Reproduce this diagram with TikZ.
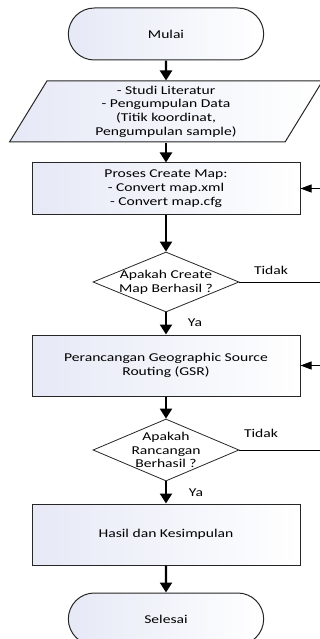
\documentclass[tikz,border=0pt]{standalone}
\usepackage{fontspec}
\setmainfont{Carlito}[FakeStretch=1.3]
\usetikzlibrary{positioning}
\usetikzlibrary{shapes.geometric}
\usetikzlibrary{shapes.misc}
\usetikzlibrary{arrows.meta}
\definecolor{boxfill}{RGB}{230,233,246}

\begin{document}
\begin{tikzpicture}[
  x=1pt, y=-1pt,
  font=\fontsize{12}{13.7}\selectfont,
  term/.style={draw=black!85, line width=1pt, rounded rectangle, minimum width=202pt, minimum height=52pt, left color=boxfill, right color=white},
  io/.style={draw=black!85, line width=1pt, trapezium, trapezium left angle=54, trapezium right angle=126, trapezium stretches body, minimum width=313pt, minimum height=61pt, left color=boxfill, right color=white, align=center, inner sep=0pt},
  proc/.style={draw=black!85, line width=1pt, rectangle, minimum width=268pt, left color=boxfill, right color=white, align=center},
  decision/.style={draw=black!85, line width=0.8pt, diamond, minimum width=146pt, minimum height=60pt, fill=white, inner sep=0pt},
  flow/.style={draw=black, line width=2.2pt, -{Triangle[width=12pt,length=10pt]}},
  back/.style={draw=black, line width=0.9pt, -{Triangle[width=8pt,length=11pt]}}
]
  \useasboundingbox (0,0) rectangle (320,639);
  \clip (0,0) rectangle (320,639);

  \node[term] (mulai) at (166,34) {Mulai};
  \node[io] (data) at (166,111.5) {- Studi Literatur\\- Pengumpulan Data\\(Titik koordinat,\\Pengumpulan sample)};
  \node[proc, minimum height=51pt] (map) at (166,188.5) {Proses Create Map:\\- Convert map.xml\\- Convert map.cfg};
  \node[decision] (cekmap) at (166,282) {};
  \node[align=center] (cekmaptext) at (cekmap) {Apakah Create\\Map Berhasil ?};
  \node[proc, minimum height=61pt] (gsr) at (166,365.5) {Perancangan Geographic Source\\Routing (GSR)};
  \node[decision, minimum height=62pt] (cekgsr) at (166,450) {};
  \node[align=center] (cekgsrtext) at (cekgsr) {Apakah\\Rancangan\\Berhasil ?};
  \node[proc, minimum height=61pt] (hasil) at (166,534.5) {Hasil dan Kesimpulan};
  \node[term] (selesai) at (166,619) {Selesai};

  \node (ya1) at (195,323) {Ya};
  \node (tidak1) at (271,270) {Tidak};
  \node (ya2) at (196,493) {Ya};
  \node (tidak2) at (261,433) {Tidak};

  \draw[flow] (mulai) -- (data);
  \draw[flow] (data) -- (map);
  \draw[flow] (map) -- (cekmap);
  \draw[flow] (cekmap) -- (gsr);
  \draw[flow] (gsr) -- (cekgsr);
  \draw[flow] (cekgsr) -- (hasil);
  \draw[flow] (hasil) -- (selesai);
  \draw[back] (cekmap.east) -- ++(95,0) |- (map.east);
  \draw[back] (cekgsr.east) -- ++(95,0) |- (gsr.east);
\end{tikzpicture}
\end{document}
